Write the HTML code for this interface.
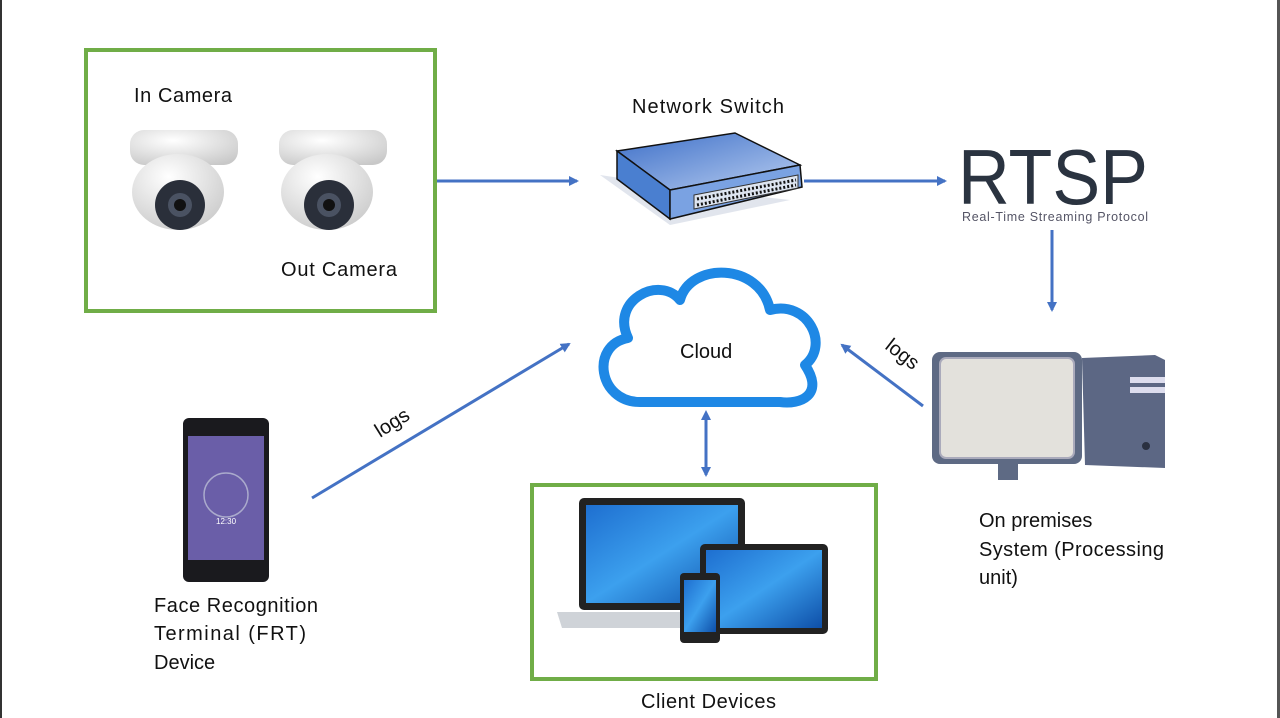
<!DOCTYPE html>
<html><head><meta charset="utf-8"><style>
html,body{margin:0;padding:0;background:#fff;width:1280px;height:718px;overflow:hidden}
svg text{font-family:"Liberation Sans",sans-serif;fill:#111}
</style></head><body>
<svg width="1280" height="718" viewBox="0 0 1280 718" xmlns="http://www.w3.org/2000/svg">
<defs>
<marker id="ah" markerWidth="10" markerHeight="10" refX="8" refY="5" orient="auto" markerUnits="userSpaceOnUse">
<path d="M0,0 L10,5 L0,10 z" fill="#4472c4"/></marker>
<marker id="ahs" markerWidth="10" markerHeight="10" refX="2" refY="5" orient="auto-start-reverse" markerUnits="userSpaceOnUse">
<path d="M0,0 L10,5 L0,10 z" fill="#4472c4"/></marker>
<linearGradient id="scr" x1="0" y1="0" x2="1" y2="1"><stop offset="0" stop-color="#1e6fd0"/><stop offset="0.5" stop-color="#3ca0ee"/><stop offset="1" stop-color="#0e4fa8"/></linearGradient>
<linearGradient id="top" x1="0" y1="0" x2="1" y2="1"><stop offset="0" stop-color="#3d6fc8"/><stop offset="1" stop-color="#b8cdf0"/></linearGradient>
<radialGradient id="cam" cx="0.4" cy="0.3" r="0.8"><stop offset="0" stop-color="#fff"/><stop offset="1" stop-color="#c8c8c8"/></radialGradient>
</defs>
<rect x="0" y="0" width="2" height="718" fill="#333"/>
<rect x="1277" y="0" width="3" height="718" fill="#555"/>

<rect x="86" y="50" width="349" height="261" fill="none" stroke="#70ad47" stroke-width="4"/>
<text x="134" y="102" font-size="20" textLength="98">In Camera</text>
<text x="281" y="276" font-size="20" textLength="116">Out Camera</text>
<g id="c1">
<rect x="130" y="130" width="108" height="35" rx="14" fill="url(#cam)"/>
<ellipse cx="178" cy="192" rx="46" ry="38" fill="url(#cam)"/>
<circle cx="180" cy="205" r="25" fill="#2a2f3a"/>
<circle cx="180" cy="205" r="12" fill="#4a5262"/>
<circle cx="180" cy="205" r="6" fill="#111"/>
</g>
<use href="#c1" x="149"/>

<line x1="437" y1="181" x2="577" y2="181" stroke="#4472c4" stroke-width="3" marker-end="url(#ah)"/>
<line x1="804" y1="181" x2="945" y2="181" stroke="#4472c4" stroke-width="3" marker-end="url(#ah)"/>
<line x1="1052" y1="230" x2="1052" y2="310" stroke="#4472c4" stroke-width="3" marker-end="url(#ah)"/>
<line x1="923" y1="406" x2="842" y2="345" stroke="#4472c4" stroke-width="3" marker-end="url(#ah)"/>
<line x1="312" y1="498" x2="569" y2="344" stroke="#4472c4" stroke-width="3" marker-end="url(#ah)"/>
<line x1="706" y1="418" x2="706" y2="475" stroke="#4472c4" stroke-width="3" marker-start="url(#ahs)" marker-end="url(#ah)"/>

<text x="632" y="113" font-size="20" textLength="152">Network Switch</text>
<polygon points="600,175 670,225 790,200 700,190" fill="#c4ccdc" opacity="0.5"/>
<polygon points="617,151 735,133 800,165 670,190" fill="url(#top)" stroke="#111" stroke-width="1.5"/>
<polygon points="617,151 670,190 670,219 617,179" fill="#4a7fd0" stroke="#111" stroke-width="1.5"/>
<polygon points="670,190 800,165 802,187 670,219" fill="#7aa2e2" stroke="#111" stroke-width="1.5"/>
<polygon points="694,195 798,175 798,188 694,209" fill="#dde4f0" stroke="#333"/>
<line x1="697" y1="199" x2="796" y2="180" stroke="#111" stroke-width="3" stroke-dasharray="2,2"/>
<line x1="697" y1="205" x2="796" y2="185" stroke="#111" stroke-width="3" stroke-dasharray="2,2"/>

<text x="958" y="204" font-size="78" style="fill:#2a3340" textLength="190" lengthAdjust="spacingAndGlyphs">RTSP</text>
<text x="962" y="221" font-size="12.5" style="fill:#556" textLength="186">Real-Time Streaming Protocol</text>

<path d="M640,402 C598,402 590,345 628,338 C610,300 660,275 680,300 C690,262 760,262 770,310 C808,300 830,345 805,365 C825,395 800,405 780,402 Z" fill="#fff" stroke="#1e88e5" stroke-width="10" stroke-linejoin="round"/>
<text x="680" y="358" font-size="20">Cloud</text>

<text x="0" y="0" font-size="20" transform="translate(380,438) rotate(-32)">logs</text>
<text x="0" y="0" font-size="20" transform="translate(884,348) rotate(38)">logs</text>

<rect x="932" y="352" width="150" height="112" rx="8" fill="#5e6a84"/>
<rect x="940" y="358" width="134" height="100" rx="6" fill="#e3e1dc" stroke="#aab" stroke-width="2"/>
<rect x="998" y="462" width="20" height="18" fill="#5e6a84"/>
<polygon points="1082,358 1155,355 1165,360 1165,468 1085,465" fill="#5c6784"/>
<rect x="1130" y="377" width="35" height="6" fill="#dde"/>
<rect x="1130" y="387" width="35" height="6" fill="#dde"/>
<circle cx="1146" cy="446" r="4" fill="#2a3040"/>
<text x="979" y="527" font-size="20">On premises</text>
<text x="979" y="556" font-size="20" textLength="185">System (Processing</text>
<text x="979" y="584" font-size="20">unit)</text>

<rect x="183" y="418" width="86" height="164" rx="6" fill="#1a1a1e"/>
<rect x="188" y="436" width="76" height="124" fill="#6a5ea8"/>
<circle cx="226" cy="495" r="22" fill="none" stroke="#aac" stroke-width="1.5"/>
<text x="216" y="524" font-size="8" style="fill:#fff">12:30</text>
<text x="154" y="612" font-size="20" textLength="164">Face Recognition</text>
<text x="154" y="640" font-size="20" textLength="152">Terminal  (FRT)</text>
<text x="154" y="669" font-size="20">Device</text>

<rect x="532" y="485" width="344" height="194" fill="none" stroke="#70ad47" stroke-width="4"/>
<rect x="579" y="498" width="166" height="112" rx="5" fill="#222"/>
<rect x="586" y="505" width="152" height="98" fill="url(#scr)"/>
<polygon points="557,612 765,612 760,628 562,628" fill="#cfd3d8"/>
<rect x="700" y="544" width="128" height="90" rx="5" fill="#222"/>
<rect x="706" y="550" width="116" height="78" fill="url(#scr)"/>
<rect x="680" y="573" width="40" height="70" rx="4" fill="#222"/>
<rect x="684" y="580" width="32" height="52" fill="url(#scr)"/>
<text x="641" y="708" font-size="20" textLength="135">Client Devices</text>
</svg>
</body></html>
